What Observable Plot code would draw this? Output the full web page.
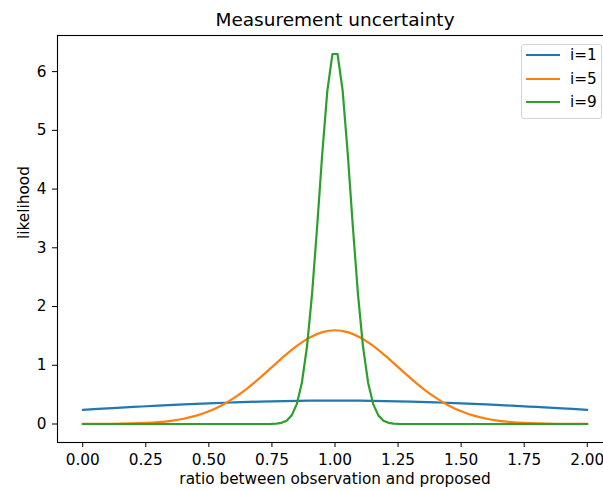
<!DOCTYPE html>
<html><head><meta charset="utf-8">
<script src="https://cdn.jsdelivr.net/npm/d3@7"></script>
<script src="https://cdn.jsdelivr.net/npm/@observablehq/plot@0.6"></script>
<style>
html,body{margin:0;padding:0;background:#fff;overflow:hidden;}
#wrap{position:relative;width:603px;height:491px;font-family:"DejaVu Sans",sans-serif;}
#legend{position:absolute;left:521px;top:44px;width:81px;height:75px;border:1px solid #d5d5d5;border-radius:3px;background:rgba(255,255,255,0.8);box-sizing:border-box;}
#legend .item{position:absolute;left:0;width:79px;height:20px;}
#legend .swatch{position:absolute;left:4px;top:9px;width:34px;height:2.2px;}
#legend .lab{position:absolute;left:48px;top:0;font-size:15.3px;line-height:20px;color:#000;}
</style>
</head><body>
<div id="wrap"><div id="legend"></div></div>
<script>
// ---- data ----
const title = "Measurement uncertainty";
const xLabel = "ratio between observation and proposed";
const yLabel = "likelihood";
const seriesNames = ["i=1", "i=5", "i=9"];
const seriesColors = ["#1f77b4", "#ff7f0e", "#2ca02c"];
const xTicks = [0, 0.25, 0.5, 0.75, 1, 1.25, 1.5, 1.75, 2];
const yTicks = [0, 1, 2, 3, 4, 5, 6];

const blueX = [0,0.1,0.2,0.3,0.4,0.5,0.6,0.7,0.8,0.9,1.0,1.1,1.2,1.3,1.4,1.5,1.6,1.7,1.8,1.9,2.0];
const blueY = [0.242,0.266,0.290,0.312,0.333,0.352,0.368,0.381,0.391,0.397,0.399,0.397,0.391,0.381,0.368,0.352,0.333,0.312,0.290,0.266,0.242];

const orangeX = [0,0.05,0.1,0.15,0.2,0.25,0.3,0.35,0.4,0.45,0.5,0.55,0.6,0.65,0.7,0.75,0.8,0.85,0.9,0.95,1.0,
  1.05,1.1,1.15,1.2,1.25,1.3,1.35,1.4,1.45,1.5,1.55,1.6,1.65,1.7,1.75,1.8,1.85,1.9,1.95,2.0];
const orangeY = [0.0005,0.0012,0.0024,0.0049,0.0095,0.0177,0.0317,0.0543,0.0896,0.1419,0.216,0.316,0.444,0.599,0.777,0.968,1.159,1.333,1.473,1.564,1.596,
  1.564,1.473,1.333,1.159,0.968,0.777,0.599,0.444,0.316,0.216,0.1419,0.0896,0.0543,0.0317,0.0177,0.0095,0.0049,0.0024,0.0012,0.0005];

const greenX = [0,0.7273,0.7475,0.7677,0.7879,0.8081,0.8283,0.8485,0.8687,0.8889,0.9091,0.9293,0.9495,0.9697,0.9899,
  1.0101,1.0303,1.0505,1.0707,1.0909,1.1111,1.1313,1.1515,1.1717,1.1919,1.2121,1.2323,1.2525,1.2727,2.0];
const greenY = [0,0,0.002,0.006,0.020,0.057,0.147,0.338,0.702,1.315,2.216,3.366,4.605,5.675,6.300,
  6.300,5.675,4.605,3.366,2.216,1.315,0.702,0.338,0.147,0.057,0.020,0.006,0.002,0,0];

const seriesX = [blueX, orangeX, greenX];
const seriesY = [blueY, orangeY, greenY];
const seriesCurve = ["catmull-rom", "catmull-rom", "linear"];

const lineMarks = seriesNames.map((name, s) => {
  const rows = seriesX[s].map((x, i) => ({x, y: seriesY[s][i]}));
  return Plot.line(rows, {x: "x", y: "y", stroke: seriesColors[s], strokeWidth: 2.2, curve: seriesCurve[s]});
});

const chart = Plot.plot({
  width: 603,
  height: 491,
  marginLeft: 57,
  marginRight: -9,
  marginTop: 35,
  marginBottom: 49,
  style: {fontFamily: "DejaVu Sans, sans-serif", fontSize: "15.3px", color: "#000", background: "#fff", overflow: "visible"},
  x: {domain: [-0.1, 2.1]},
  y: {domain: [-0.315, 6.615]},
  marks: [
    ...lineMarks,
    Plot.frame({stroke: "#000", strokeWidth: 1.1}),
    Plot.axisX({ticks: xTicks, tickFormat: d3.format(".2f"), tickSize: 5, tickPadding: 7, label: null, fontSize: 15.3}),
    Plot.axisY({ticks: yTicks, tickFormat: d3.format("d"), tickSize: 5, tickPadding: 6, label: null, fontSize: 15.3}),
    Plot.text([title], {frameAnchor: "top", lineAnchor: "bottom", dy: -9.3, fontSize: 18.5, fill: "#000"}),
    Plot.text([xLabel], {frameAnchor: "bottom", lineAnchor: "bottom", dy: 41.3, fontSize: 15.3, fill: "#000"}),
    Plot.text([yLabel], {frameAnchor: "left", lineAnchor: "middle", dx: -33.6, rotate: -90, fontSize: 15.3, fill: "#000"})
  ]
});
document.getElementById("wrap").prepend(chart);

const legend = document.getElementById("legend");
seriesNames.forEach((name, s) => {
  const item = document.createElement("div");
  item.className = "item";
  item.style.top = (0 + s * 23.5) + "px";
  const sw = document.createElement("div");
  sw.className = "swatch";
  sw.style.background = seriesColors[s];
  const lab = document.createElement("div");
  lab.className = "lab";
  lab.textContent = name;
  item.appendChild(sw);
  item.appendChild(lab);
  legend.appendChild(item);
});
</script>
</body></html>
